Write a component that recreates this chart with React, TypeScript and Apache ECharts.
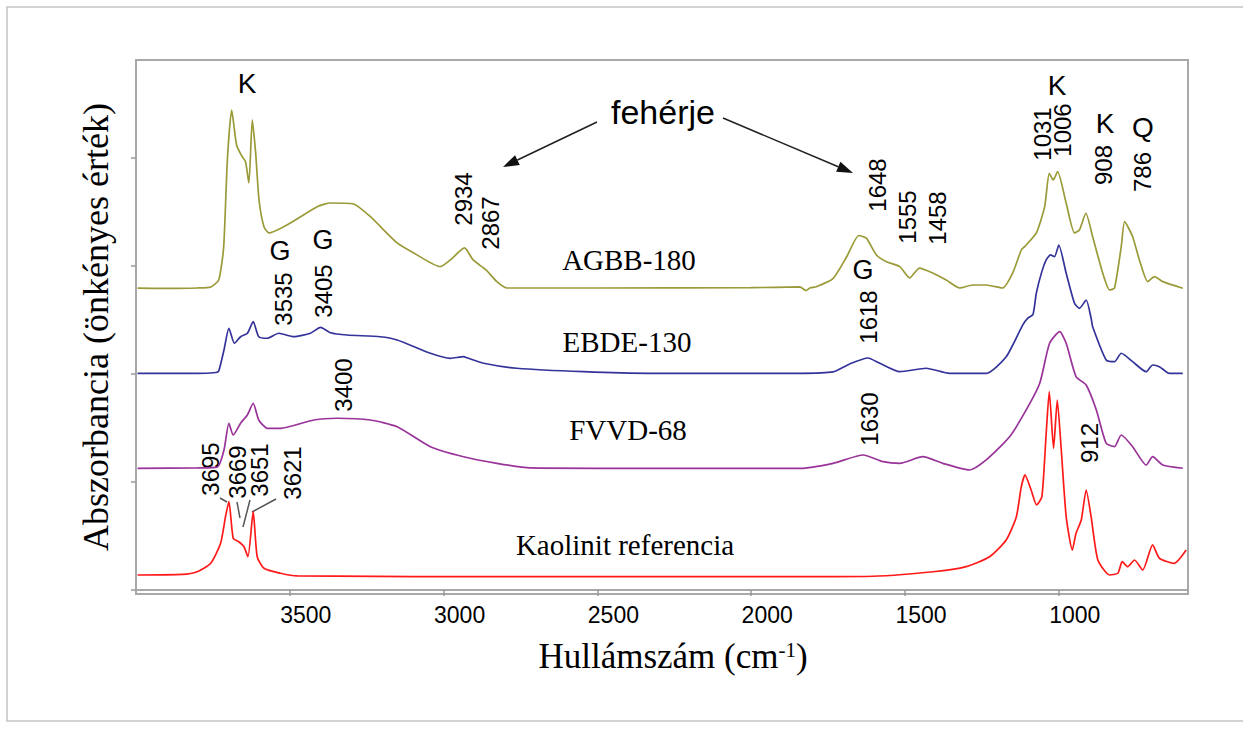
import React, { useEffect, useRef } from "react";
import * as echarts from "echarts";

// ---- data (wavenumber in cm-1, absorbance in arbitrary units) ----
const tickWavenumbers = [3500, 3000, 2500, 2000, 1500, 1000];
const yTicks = [0, 1, 2, 3, 4];

const agbbWn = [3995, 3900, 3800, 3757, 3731, 3715, 3703, 3689, 3673, 3655, 3644, 3633, 3622, 3611, 3600, 3584, 3568, 3498, 3411, 3368, 3293, 3238, 3151, 3097, 3011, 2978, 2932, 2904, 2862, 2827, 2794, 2500, 2000, 1842, 1822, 1809, 1788, 1735, 1690, 1650, 1625, 1593, 1560, 1517, 1485, 1453, 1410, 1366, 1322, 1280, 1236, 1183, 1150, 1122, 1111, 1073, 1046, 1031, 1018, 1004, 976, 949, 933, 912, 890, 857, 835, 819, 797, 786, 760, 738, 711, 689, 662, 597];
const agbbAbs = [2.794, 2.792, 2.796, 2.806, 2.87, 3.176, 3.981, 4.444, 4.12, 4.012, 3.966, 3.769, 4.352, 4.046, 3.611, 3.364, 3.306, 3.398, 3.549, 3.583, 3.574, 3.456, 3.213, 3.12, 2.994, 3.056, 3.167, 3.056, 2.963, 2.855, 2.796, 2.796, 2.799, 2.806, 2.773, 2.796, 2.808, 2.88, 3.083, 3.282, 3.255, 3.102, 3.04, 2.994, 2.889, 2.981, 2.935, 2.87, 2.796, 2.824, 2.824, 2.796, 2.935, 3.148, 3.179, 3.306, 3.549, 3.858, 3.796, 3.873, 3.581, 3.306, 3.333, 3.488, 3.271, 2.932, 2.778, 2.796, 3.179, 3.41, 3.271, 3.056, 2.855, 2.901, 2.855, 2.794];

const ebdeWn = [3995, 3800, 3740, 3731, 3714, 3698, 3680, 3660, 3638, 3619, 3601, 3573, 3536, 3487, 3433, 3400, 3368, 3314, 3206, 3151, 3043, 2978, 2935, 2924, 2870, 2762, 2545, 2329, 1842, 1734, 1680, 1620, 1582, 1517, 1431, 1355, 1236, 1171, 1117, 1100, 1084, 1073, 1055, 1041, 1027, 1014, 1000, 976, 949, 933, 911, 895, 890, 846, 819, 797, 760, 716, 695, 673, 641, 597];
const ebdeAbs = [2.006, 2.006, 2.014, 2.028, 2.222, 2.423, 2.284, 2.345, 2.377, 2.484, 2.345, 2.331, 2.377, 2.345, 2.377, 2.432, 2.382, 2.361, 2.345, 2.315, 2.192, 2.145, 2.16, 2.15, 2.099, 2.053, 2.021, 2.006, 2.006, 2.019, 2.093, 2.148, 2.099, 2.021, 2.053, 2.006, 2.006, 2.16, 2.454, 2.519, 2.55, 2.75, 2.95, 3.056, 3.102, 3.086, 3.194, 2.932, 2.655, 2.608, 2.685, 2.516, 2.438, 2.13, 2.114, 2.192, 2.114, 2.021, 2.083, 2.068, 2.006, 2.006];

const fvvdWn = [3995, 3800, 3735, 3714, 3698, 3684, 3660, 3638, 3619, 3601, 3573, 3530, 3422, 3346, 3238, 3151, 3043, 2935, 2827, 2719, 2500, 1842, 1734, 1636, 1571, 1517, 1442, 1377, 1290, 1236, 1160, 1106, 1062, 1030, 997, 976, 944, 911, 878, 846, 819, 797, 760, 716, 695, 662, 597];
const fvvdAbs = [1.127, 1.13, 1.139, 1.296, 1.544, 1.435, 1.544, 1.62, 1.729, 1.574, 1.497, 1.497, 1.574, 1.59, 1.574, 1.512, 1.327, 1.234, 1.173, 1.13, 1.127, 1.127, 1.173, 1.25, 1.188, 1.173, 1.234, 1.173, 1.111, 1.204, 1.419, 1.667, 1.914, 2.284, 2.392, 2.284, 1.975, 1.898, 1.667, 1.358, 1.327, 1.435, 1.327, 1.157, 1.234, 1.157, 1.127];

const kaolWn = [3995, 3850, 3801, 3757, 3725, 3709, 3698, 3684, 3666, 3649, 3636, 3619, 3606, 3584, 3530, 3476, 2719, 1842, 1625, 1409, 1301, 1225, 1171, 1138, 1122, 1110, 1090, 1072, 1055, 1041, 1031, 1017, 1005, 992, 976, 956, 944, 927, 911, 895, 873, 835, 808, 794, 776, 754, 727, 695, 673, 625, 586];
const kaolAbs = [0.139, 0.144, 0.169, 0.247, 0.432, 0.679, 0.818, 0.479, 0.447, 0.401, 0.308, 0.725, 0.308, 0.201, 0.155, 0.13, 0.123, 0.123, 0.125, 0.169, 0.216, 0.308, 0.463, 0.679, 0.956, 1.065, 0.926, 0.787, 0.864, 1.451, 1.836, 1.312, 1.759, 1.296, 0.679, 0.37, 0.525, 0.648, 0.926, 0.679, 0.278, 0.139, 0.155, 0.262, 0.216, 0.278, 0.185, 0.417, 0.294, 0.247, 0.37];

const seriesNames = ["AGBB-180", "EBDE-130", "FVVD-68", "Kaolinit referencia"];
const seriesColors = ["#9a9a38", "#33339a", "#993399", "#ff1a1a"];

const SANS = '"Liberation Sans", Arial, sans-serif';
const SERIF = '"Liberation Serif", "Times New Roman", serif';

function zip(a: number[], b: number[]) {
  return a.map((w, i) => [w, b[i]]);
}

function txt(text: string, x: number, y: number, size: number, family: string, rotate = false) {
  return {
    type: "text",
    x,
    y,
    rotation: rotate ? Math.PI / 2 : 0,
    style: {
      text,
      fill: "#000",
      fontSize: size,
      fontFamily: family,
      align: "center",
      verticalAlign: "middle",
      textAlign: "center",
      textVerticalAlign: "middle",
    },
  };
}

function arrow(x1: number, y1: number, x2: number, y2: number) {
  const dx = x2 - x1;
  const dy = y2 - y1;
  const len = Math.sqrt(dx * dx + dy * dy);
  const ux = dx / len;
  const uy = dy / len;
  const hl = 16;
  const hw = 5.5;
  const bx = x2 - ux * hl;
  const by = y2 - uy * hl;
  return [
    { type: "line", shape: { x1, y1, x2: bx, y2: by }, style: { stroke: "#222", lineWidth: 1.6 } },
    {
      type: "polygon",
      shape: {
        points: [
          [x2, y2],
          [bx - uy * hw, by + ux * hw],
          [bx + uy * hw, by - ux * hw],
        ],
      },
      style: { fill: "#111" },
    },
  ];
}

function leader(x1: number, y1: number, x2: number, y2: number) {
  return { type: "line", shape: { x1, y1, x2, y2 }, style: { stroke: "#555", lineWidth: 1.5 } };
}

export default function App() {
  const ref = useRef<HTMLDivElement>(null);

  useEffect(() => {
    document.body.style.margin = "0";
    const chart = echarts.init(ref.current!, undefined, { renderer: "svg" });
    const labelShift = 52;

    const graphics: any[] = [
      {
        type: "rect",
        shape: { x: 7, y: 7, width: 1250, height: 714 },
        style: { fill: "none", stroke: "#c4c4c4", lineWidth: 1.5 },
        silent: true,
      },
      // top annotations
      txt("K", 247, 83, 28, SANS),
      txt("fehérje", 663, 112, 34, SANS),
      txt("K", 1057, 85, 28, SANS),
      txt("K", 1105, 123, 28, SANS),
      txt("Q", 1143, 127, 28, SANS),
      txt("G", 280, 251, 27, SANS),
      txt("G", 323, 240, 27, SANS),
      txt("G", 863, 270, 27, SANS),
      // rotated peak positions
      txt("2934", 463, 199, 24, SANS, true),
      txt("2867", 490, 223, 24, SANS, true),
      txt("3535", 283, 299, 24, SANS, true),
      txt("3405", 323, 291, 24, SANS, true),
      txt("3400", 343, 385, 24, SANS, true),
      txt("3695", 210, 469, 24, SANS, true),
      txt("3669", 237, 472, 24, SANS, true),
      txt("3651", 259, 470, 24, SANS, true),
      txt("3621", 292, 473, 24, SANS, true),
      txt("1648", 877, 185, 24, SANS, true),
      txt("1555", 907, 217, 24, SANS, true),
      txt("1458", 937, 218, 24, SANS, true),
      txt("1031", 1042, 134, 24, SANS, true),
      txt("1006", 1062, 130, 24, SANS, true),
      txt("908", 1103, 165, 24, SANS, true),
      txt("786", 1142, 172, 24, SANS, true),
      txt("1618", 868, 317, 24, SANS, true),
      txt("1630", 869, 419, 24, SANS, true),
      txt("912", 1089, 443, 24, SANS, true),
      // series names
      txt(seriesNames[0], 629, 260, 29, SERIF),
      txt(seriesNames[1], 627, 342, 29, SERIF),
      txt(seriesNames[2], 628, 430, 29, SERIF),
      txt(seriesNames[3], 625, 545, 29, SERIF),
      // leaders
      leader(220, 498, 227, 502),
      leader(237, 502, 240, 518),
      leader(250, 500, 243, 527),
      leader(276, 499, 252, 512),
      ...arrow(597, 122, 503, 167),
      ...arrow(723, 118, 853, 173),
    ];

    chart.setOption({
      animation: false,
      backgroundColor: "#fff",
      grid: {
        left: 136,
        top: 60,
        right: 55,
        bottom: 137,
        show: true,
        borderColor: "#a8a8a8",
        borderWidth: 2,
        containLabel: false,
      },
      xAxis: {
        type: "value",
        inverse: true,
        min: 580,
        max: 4000,
        name: "{a|Hullámszám (cm}{s|-1}{a|)}",
        nameLocation: "middle",
        nameGap: 45,
        nameTextStyle: {
          padding: [0, 0, 0, 22],
          rich: {
            a: { fontFamily: SERIF, fontSize: 35, color: "#000" },
            s: { fontFamily: SERIF, fontSize: 21, color: "#000", verticalAlign: "top", padding: [0, 0, 14, 0] },
          },
        },
        axisLine: { show: true, lineStyle: { color: "#a8a8a8", width: 2 } },
        axisTick: {
          show: true,
          customValues: tickWavenumbers,
          length: 6,
          lineStyle: { color: "#999", width: 1.5 },
        },
        axisLabel: {
          customValues: tickWavenumbers.map((v) => v - labelShift),
          formatter: (v: number) => String(Math.round(v + labelShift)),
          fontFamily: SANS,
          fontSize: 23,
          color: "#000",
          margin: 9,
        },
        splitLine: { show: false },
      },
      yAxis: {
        type: "value",
        min: -0.037,
        max: 4.907,
        name: "Abszorbancia (önkényes érték)",
        nameLocation: "middle",
        nameGap: 22,
        nameTextStyle: { fontFamily: SERIF, fontSize: 36, color: "#000" },
        axisLine: { show: true, lineStyle: { color: "#a8a8a8", width: 2 } },
        axisTick: {
          show: true,
          customValues: yTicks,
          length: 5,
          lineStyle: { color: "#999", width: 1.5 },
        },
        axisLabel: { show: false },
        splitLine: { show: false },
      },
      series: [
        { name: seriesNames[0], type: "line", data: zip(agbbWn, agbbAbs), color: seriesColors[0] },
        { name: seriesNames[1], type: "line", data: zip(ebdeWn, ebdeAbs), color: seriesColors[1] },
        { name: seriesNames[2], type: "line", data: zip(fvvdWn, fvvdAbs), color: seriesColors[2] },
        { name: seriesNames[3], type: "line", data: zip(kaolWn, kaolAbs), color: seriesColors[3] },
      ].map((s) => ({
        ...s,
        showSymbol: false,
        symbol: "none",
        smooth: 0.2,
        lineStyle: { width: 1.7, color: s.color },
        silent: true,
      })),
      graphic: graphics,
    });

    return () => chart.dispose();
  }, []);

  return <div ref={ref} style={{ width: 1243, height: 731 }} />;
}
